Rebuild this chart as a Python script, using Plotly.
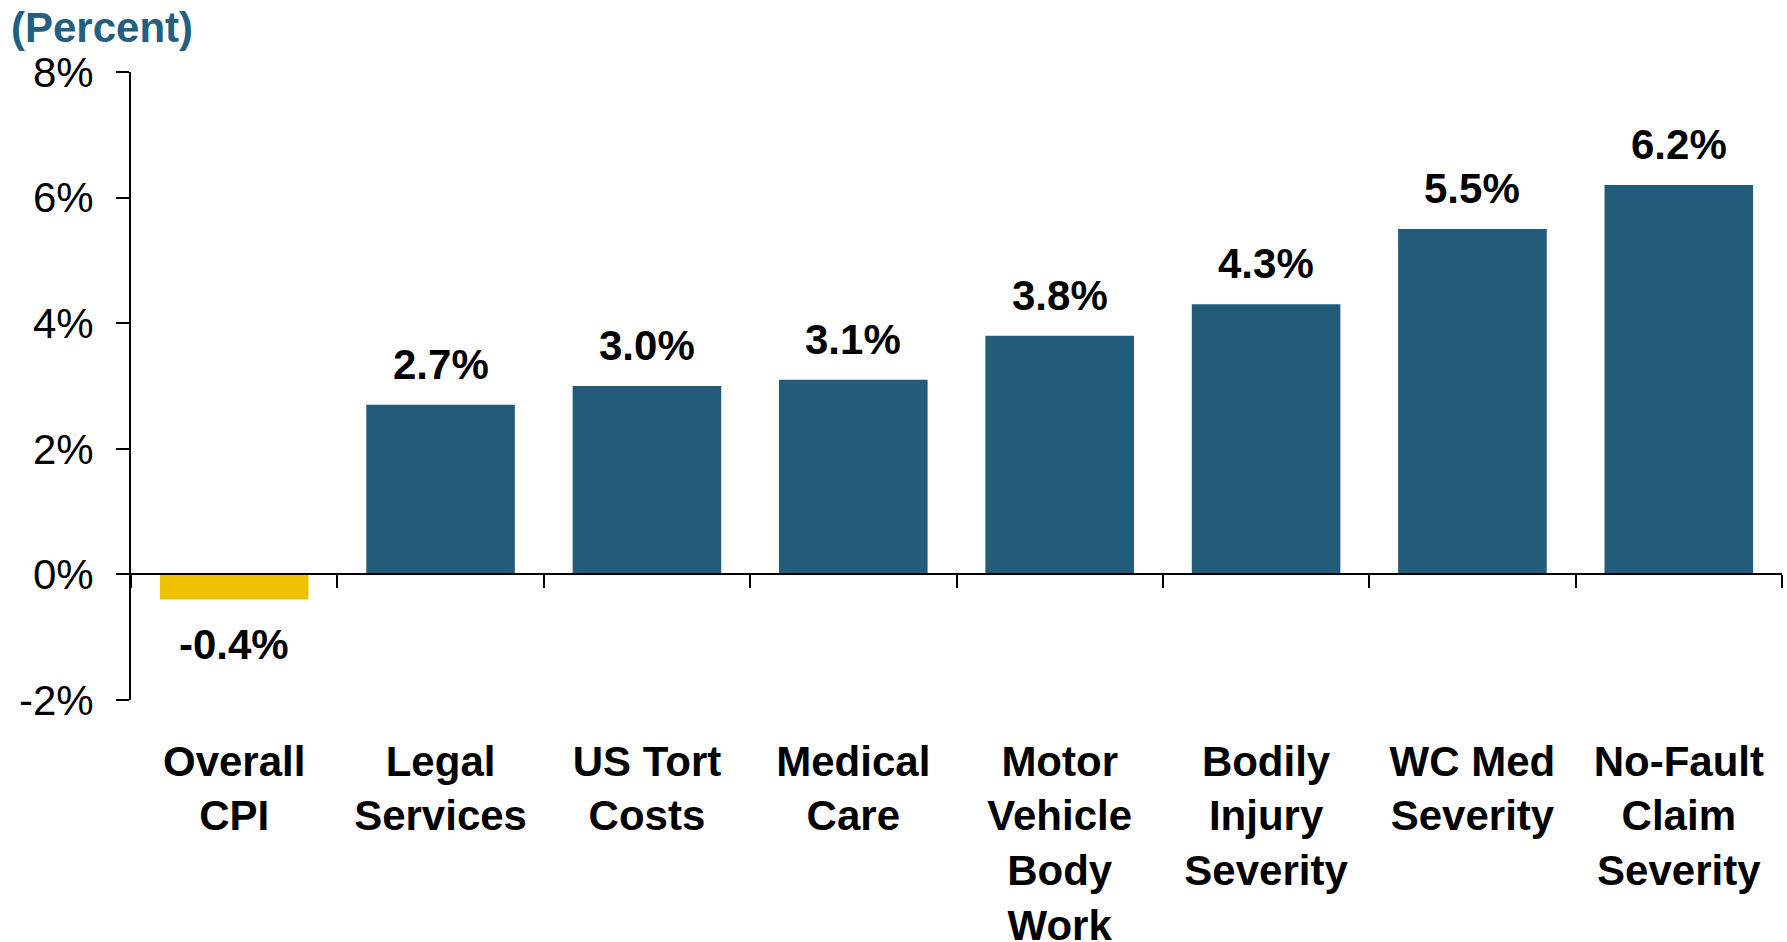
import plotly.graph_objects as go

categories = ["Overall<br>CPI", "Legal<br>Services", "US Tort<br>Costs", "Medical<br>Care",
              "Motor<br>Vehicle<br>Body<br>Work", "Bodily<br>Injury<br>Severity",
              "WC Med<br>Severity", "No-Fault<br>Claim<br>Severity"]
values = [-0.4, 2.7, 3.0, 3.1, 3.8, 4.3, 5.5, 6.2]
y_ticks = [-2, 0, 2, 4, 6, 8]
y_tick_labels = ["-2%", "0%", "2%", "4%", "6%", "8%"]

BLUE = "#235B7A"
GOLD = "#EDC200"
TITLE = "#235F80"
FONT = "Arial, Liberation Sans, sans-serif"

colors = [GOLD if v < 0 else BLUE for v in values]

fig = go.Figure()
fig.add_trace(go.Bar(x=categories, y=values, marker=dict(color=colors, line=dict(width=0)),
                     width=0.72, hoverinfo="skip"))

for c, v in zip(categories, values):
    fig.add_annotation(x=c, y=v, xref="x", yref="y", text=f"<b>{v:.1f}%</b>",
                       showarrow=False, yanchor="bottom" if v >= 0 else "top",
                       yshift=15 if v >= 0 else -19,
                       font=dict(family=FONT, size=42, color="black"))

fig.update_layout(
    width=1787, height=942,
    margin=dict(l=131, r=5, t=72, b=242, autoexpand=False),
    paper_bgcolor="white", plot_bgcolor="white",
    showlegend=False,
    title=dict(text="<b>(Percent)</b>", x=11/1787, xanchor="left", xref="container",
               y=1 - 13/942, yanchor="top", yref="container", automargin=False,
               font=dict(family=FONT, size=42, color=TITLE)),
    bargap=0.28,
)
fig.update_yaxes(range=[-2, 8], tickvals=y_ticks, ticktext=y_tick_labels, automargin=False,
                 showgrid=False, zeroline=False, showline=True, linecolor="black", linewidth=2,
                 ticks="outside", ticklen=13, tickwidth=2, tickcolor="black",
                 ticklabelstandoff=14,
                 tickfont=dict(family=FONT, size=42, color="black"))
fig.update_xaxes(anchor="free", position=0.2, showgrid=False, zeroline=False, automargin=False,
                 showline=True, linecolor="black", linewidth=2,
                 ticks="outside", tickson="boundaries", ticklen=13, tickwidth=2, tickcolor="black",
                 ticklabelstandoff=150,
                 tickfont=dict(family=FONT, size=42, color="black", weight="bold"))

fig.write_html("out.html", config={"displayModeBar": False},
               post_script="document.body.style.margin='0px';document.body.style.overflow='hidden';")
